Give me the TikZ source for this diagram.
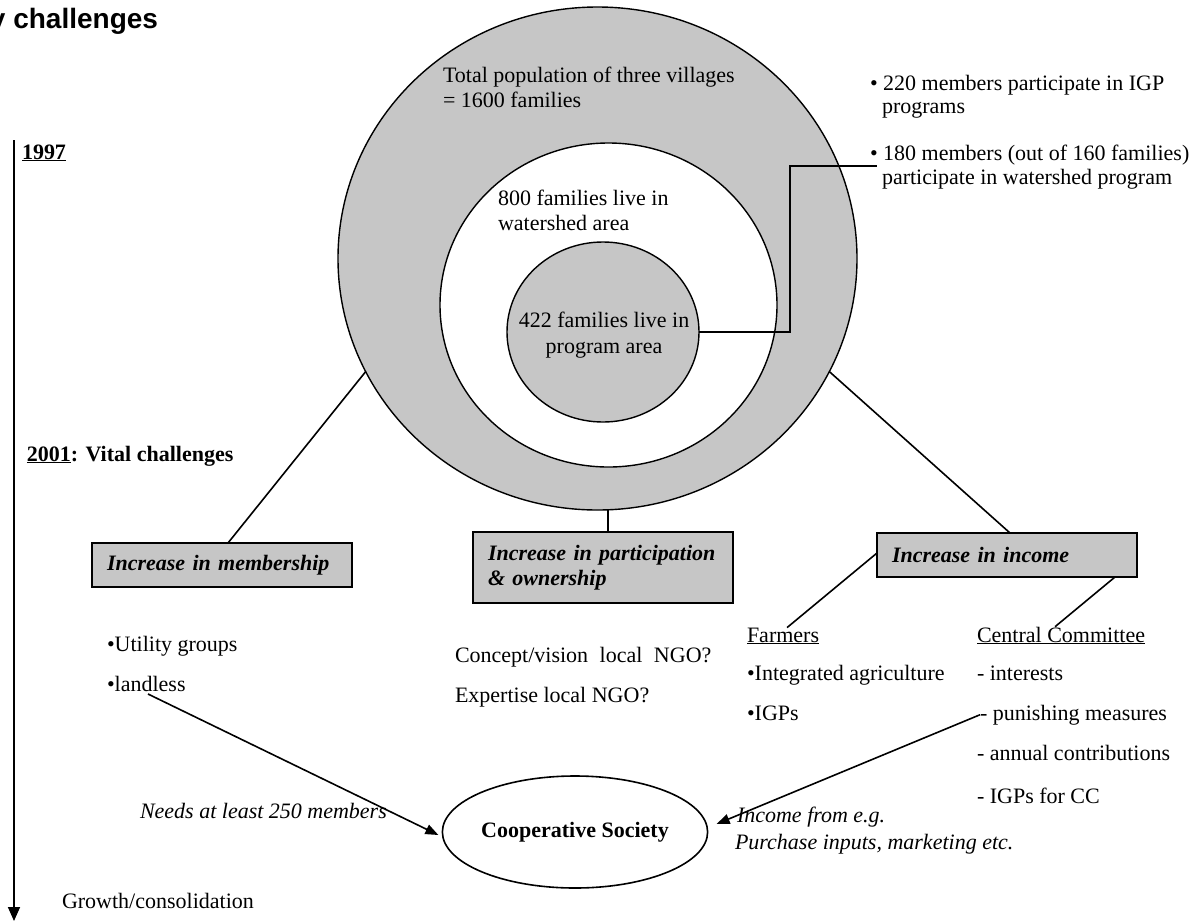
\documentclass[tikz,border=0pt]{standalone}
\usepackage{fontspec}
\setmainfont{Liberation Serif}
\newfontfamily\headfont{Liberation Sans}
\usetikzlibrary{shapes.geometric,arrows.meta}
\definecolor{shade}{RGB}{198,198,198}
\begin{document}
\begin{tikzpicture}[x=1pt,y=-1pt,
  every node/.style={font=\fontsize{22}{25}\selectfont, inner sep=0pt, outer sep=0pt},
  lbl/.style={anchor=base west},
  ring/.style={draw, ellipse, line width=1.4pt, inner sep=0pt},
  box/.style={draw, fill=shade, line width=1.6pt, minimum width=260pt, minimum height=44pt,
    inner xsep=15pt, text width=230pt, align=left,
    font=\fontsize{22}{25}\selectfont\bfseries\itshape},
  conn/.style={line width=1.6pt},
  arr/.style={line width=1.6pt, -{Triangle[length=13pt,width=10pt]}},
]
\useasboundingbox (0,0) rectangle (1203,922);

% title
\node[lbl, font=\headfont\fontsize{28}{30}\selectfont\bfseries] (title) at (-10,28) {y challenges};

% timeline
\coordinate (tltop) at (14,140);
\coordinate (tlbot) at (14,921);
\draw[line width=1.6pt, -{Triangle[length=14pt,width=12pt]}] (tltop) -- (tlbot);
\node[lbl, font=\fontsize{22}{25}\selectfont\bfseries] (y97) at (22,159) {\underline{1997}};
\node[lbl, font=\fontsize{22}{25}\selectfont\bfseries] (y01) at (27,461) {\underline{2001}: Vital challenges};
\node[lbl] (grow) at (62,908) {Growth/consolidation};

% circles
\node[ring, fill=shade, minimum width=519pt, minimum height=503pt] (outer) at (597.5,258.5) {};
\node[ring, fill=white, minimum width=337pt, minimum height=324pt] (mid) at (608.5,305) {};
\node[ring, fill=shade, minimum width=192pt, minimum height=180pt] (inner) at (603,332) {};

\node[lbl] (tot1) at (443,82) {Total population of three villages};
\node[lbl] (tot2) at (443,107) {= 1600 families};
\node[lbl] (ws1) at (498,205) {800 families live in};
\node[lbl] (ws2) at (498,230) {watershed area};
\node[anchor=base] (pa1) at (604,327) {422 families live in};
\node[anchor=base] (pa2) at (604,353) {program area};

% right notes
\node[lbl] (n1) at (870,90) {\textbullet\ 220 members participate in IGP};
\node[lbl] (n2) at (882,113) {programs};
\node[lbl] (n3) at (870,160) {\textbullet\ 180 members (out of 160 families)};
\node[lbl] (n4) at (882,184) {participate in watershed program};
\coordinate (bend) at (877,166);
\draw[conn] (inner.east) -- ++(91,0) |- (bend);

% boxes
\node[box] (b1) at (222,565) {Increase in membership};
\node[box, minimum height=71pt] (b2) at (603,567.5) {Increase in participation\\\& ownership};
\node[box] (b3) at (1007,555) {Increase in income};

\draw[conn] ([xshift=6pt]b1.north) -- (outer.206);
\draw[conn] ([xshift=5pt]b2.north) -- ([xshift=5pt]b2.north |- outer.south);
\draw[conn] ([xshift=3pt]b3.north) -- (outer.-26);

% lists
\node[lbl] (ug) at (107,651) {\textbullet Utility groups};
\node[lbl] (ll) at (107,691) {\textbullet landless};
\node[lbl] (cv) at (455,662) {Concept/vision\hspace{6pt} local\hspace{6pt} NGO?};
\node[lbl] (ex) at (455,702) {Expertise local NGO?};

\node[lbl] (farm) at (747,642) {\underline{Farmers}};
\node[lbl] (ia) at (747,680) {\textbullet Integrated agriculture};
\node[lbl] (igp) at (747,720) {\textbullet IGPs};

\node[lbl] (cc) at (977,642) {\underline{Central Committee}};
\node[lbl] (int) at (977,680) {- interests};
\node[lbl] (pun) at (980,720) {- punishing measures};
\node[lbl] (ann) at (977,760) {- annual contributions};
\node[lbl] (igcc) at (977,803) {- IGPs for CC};

\draw[conn] ([yshift=2pt]b3.west) -- ([xshift=4pt]farm.north);
\draw[conn] ([xshift=-22pt]b3.south east) -- ([xshift=-6pt]cc.north);

% cooperative society
\node[draw, ellipse, line width=1.6pt, minimum width=248pt, minimum height=112pt,
  font=\fontsize{22}{25}\selectfont\bfseries] (coop) at (575,832) {Cooperative Society};

\node[lbl, font=\fontsize{22}{25}\selectfont\itshape] (need) at (140,818) {Needs at least 250 members};
\node[lbl, font=\fontsize{22}{25}\selectfont\itshape] (inc1) at (737,822) {Income from e.g.};
\node[lbl, font=\fontsize{22}{25}\selectfont\itshape] (inc2) at (735,849) {Purchase inputs, marketing etc.};

\coordinate (lstart) at (148,694);
\draw[arr] (lstart) -- ([xshift=-4pt,yshift=-3pt]coop.west);
\draw[arr] (pun.west) -- ([shift={(9,-8)}]coop.east);
\end{tikzpicture}
\end{document}
